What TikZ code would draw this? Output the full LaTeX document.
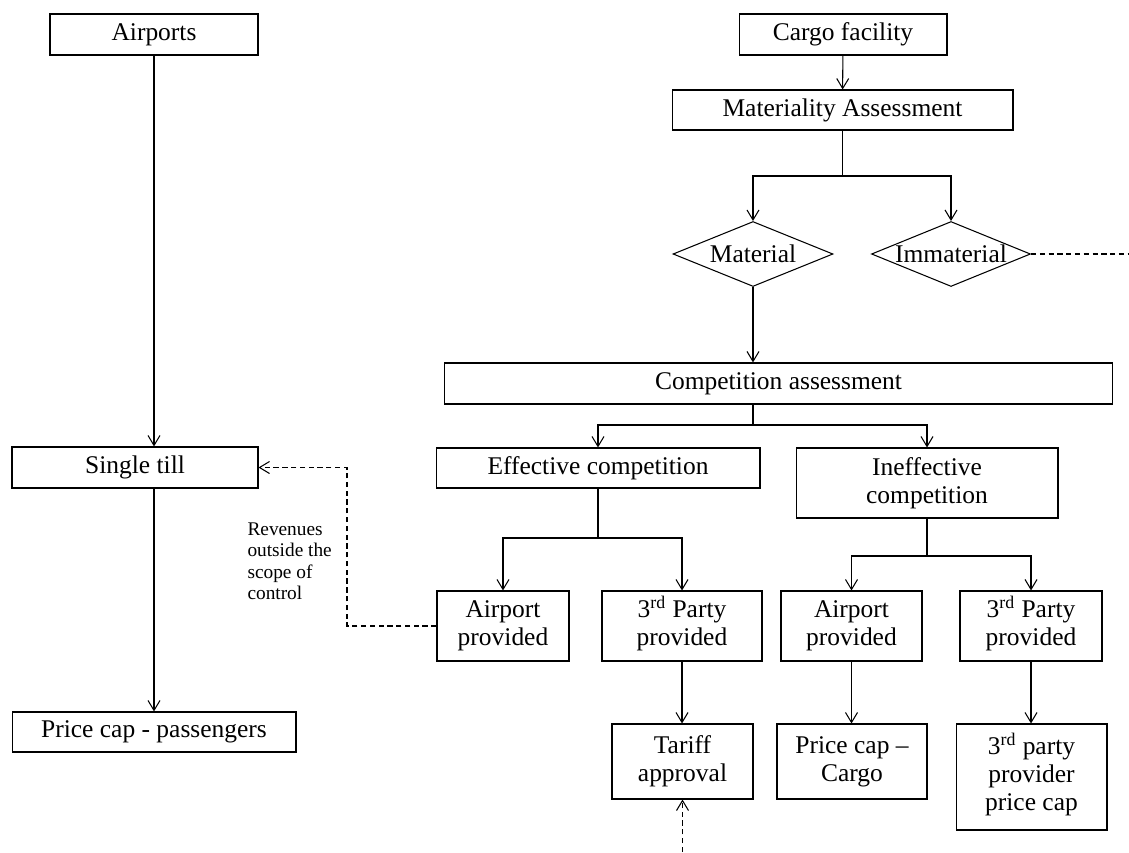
\documentclass[tikz,border=0pt]{standalone}
\usepackage{fontspec}
\setmainfont{Liberation Serif}
\usepackage{tikz}
\usetikzlibrary{arrows.meta, shapes.geometric}
\newcommand{\ord}[1]{\smash{\textsuperscript{#1}}}

\begin{document}
\begin{tikzpicture}[x=0.02cm, y=-0.02cm, >={Straight Barb[length=2mm, width=2.4mm]},
    line width=0.6pt,
    box/.style={draw, rectangle, align=center, inner sep=1pt, font=\fontsize{14.5}{16}\selectfont},
    choice/.style={draw, diamond, aspect=2.4, inner sep=0pt, minimum width=3.2cm, minimum height=1.3cm, font=\fontsize{14.5}{16}\selectfont},
    note/.style={align=left, inner sep=0pt, font=\fontsize{11}{12.2}\selectfont},
    link/.style={dash pattern=on 3pt off 2pt}]
    \useasboundingbox (0,0) rectangle (1129,852);
    % left branch
    \node[box, minimum width=4.16cm, minimum height=0.82cm] (airports) at (154,34.5) {Airports};
    \node[box, minimum width=4.92cm, minimum height=0.82cm] (single) at (135,467.5) {Single till};
    \node[box, minimum width=5.68cm, minimum height=0.80cm] (pcpass) at (154,732) {Price cap - passengers};
    % cargo branch
    \node[box, minimum width=4.16cm, minimum height=0.82cm] (cargo) at (843,34.5) {Cargo facility};
    \node[box, minimum width=6.82cm, minimum height=0.80cm] (mat) at (842.5,110) {Materiality Assessment};
    \node[choice] (material) at (753,254) {Material};
    \node[choice, minimum width=3.18cm] (immaterial) at (951,254) {Immaterial};
    \node[box, minimum width=13.38cm, minimum height=0.82cm] (comp) at (778.5,383.5) {Competition assessment};
    \node[box, minimum width=6.48cm, minimum height=0.80cm] (eff) at (598,468) {Effective competition};
    \node[box, minimum width=5.24cm, minimum height=1.40cm] (ineff) at (927,483) {Ineffective\\competition};
    \node[box, minimum width=2.64cm, minimum height=1.40cm] (apA) at (503,626) {Airport\\provided};
    \node[box, minimum width=3.20cm, minimum height=1.40cm] (tpA) at (682,626) {3\ord{rd} Party\\provided};
    \node[box, minimum width=2.82cm, minimum height=1.40cm] (apB) at (851.5,626) {Airport\\provided};
    \node[box, minimum width=2.84cm, minimum height=1.40cm] (tpB) at (1031,626) {3\ord{rd} Party\\provided};
    \node[box, minimum width=2.82cm, minimum height=1.50cm] (tariff) at (682.5,761.5) {Tariff\\approval};
    \node[box, minimum width=3.00cm, minimum height=1.50cm] (pccargo) at (852,761.5) {Price cap --\\Cargo};
    \node[box, minimum width=3.02cm, minimum height=2.12cm] (tppc) at (1031.5,777) {3\ord{rd} party\\provider\\price cap};
    \node[note, anchor=north west] (revnote) at (247,522) {Revenues\\outside the\\scope of\\control};
    % junctions and free ends
    \coordinate (matj) at (842.5,176);
    \coordinate (compj) at (753,425);
    \coordinate (effj) at (598,538);
    \coordinate (ineffj) at (927,556);
    \coordinate (revj) at (347,626);
    \coordinate (imend) at (1129,254);
    \coordinate (tarin) at (682.5,852);
    % connectors
    \draw[->] (airports.south) -- (airports.south |- single.north);
    \draw[->] (pcpass.north |- single.south) -- (pcpass.north);
    \draw[->] (cargo) -- (mat);
    \draw (mat.south) -- (matj);
    \draw[->] (matj) -| (material.north);
    \draw[->] (matj) -| (immaterial.north);
    \draw[link] (immaterial.east) -- (imend);
    \draw[->] (material.south) -- (material.south |- comp.north);
    \draw (material.south |- comp.south) -- (compj);
    \draw[->] (compj) -| (eff.north);
    \draw[->] (compj) -| (ineff.north);
    \draw (eff.south) -- (effj);
    \draw[->] (effj) -| (apA.north);
    \draw[->] (effj) -| (tpA.north);
    \draw (ineff.south) -- (ineffj);
    \draw[->] (ineffj) -| (apB.north);
    \draw[->] (ineffj) -| (tpB.north);
    \draw[->] (tpA.south) -- (tpA.south |- tariff.north);
    \draw[->] (apB.south) -- (apB.south |- pccargo.north);
    \draw[->] (tpB.south) -- (tpB.south |- tppc.north);
    \draw[->, link] (apA.west) -- (revj) |- (single.east);
    \draw[->, link] (tarin) -- (tariff.south);
\end{tikzpicture}
\end{document}
